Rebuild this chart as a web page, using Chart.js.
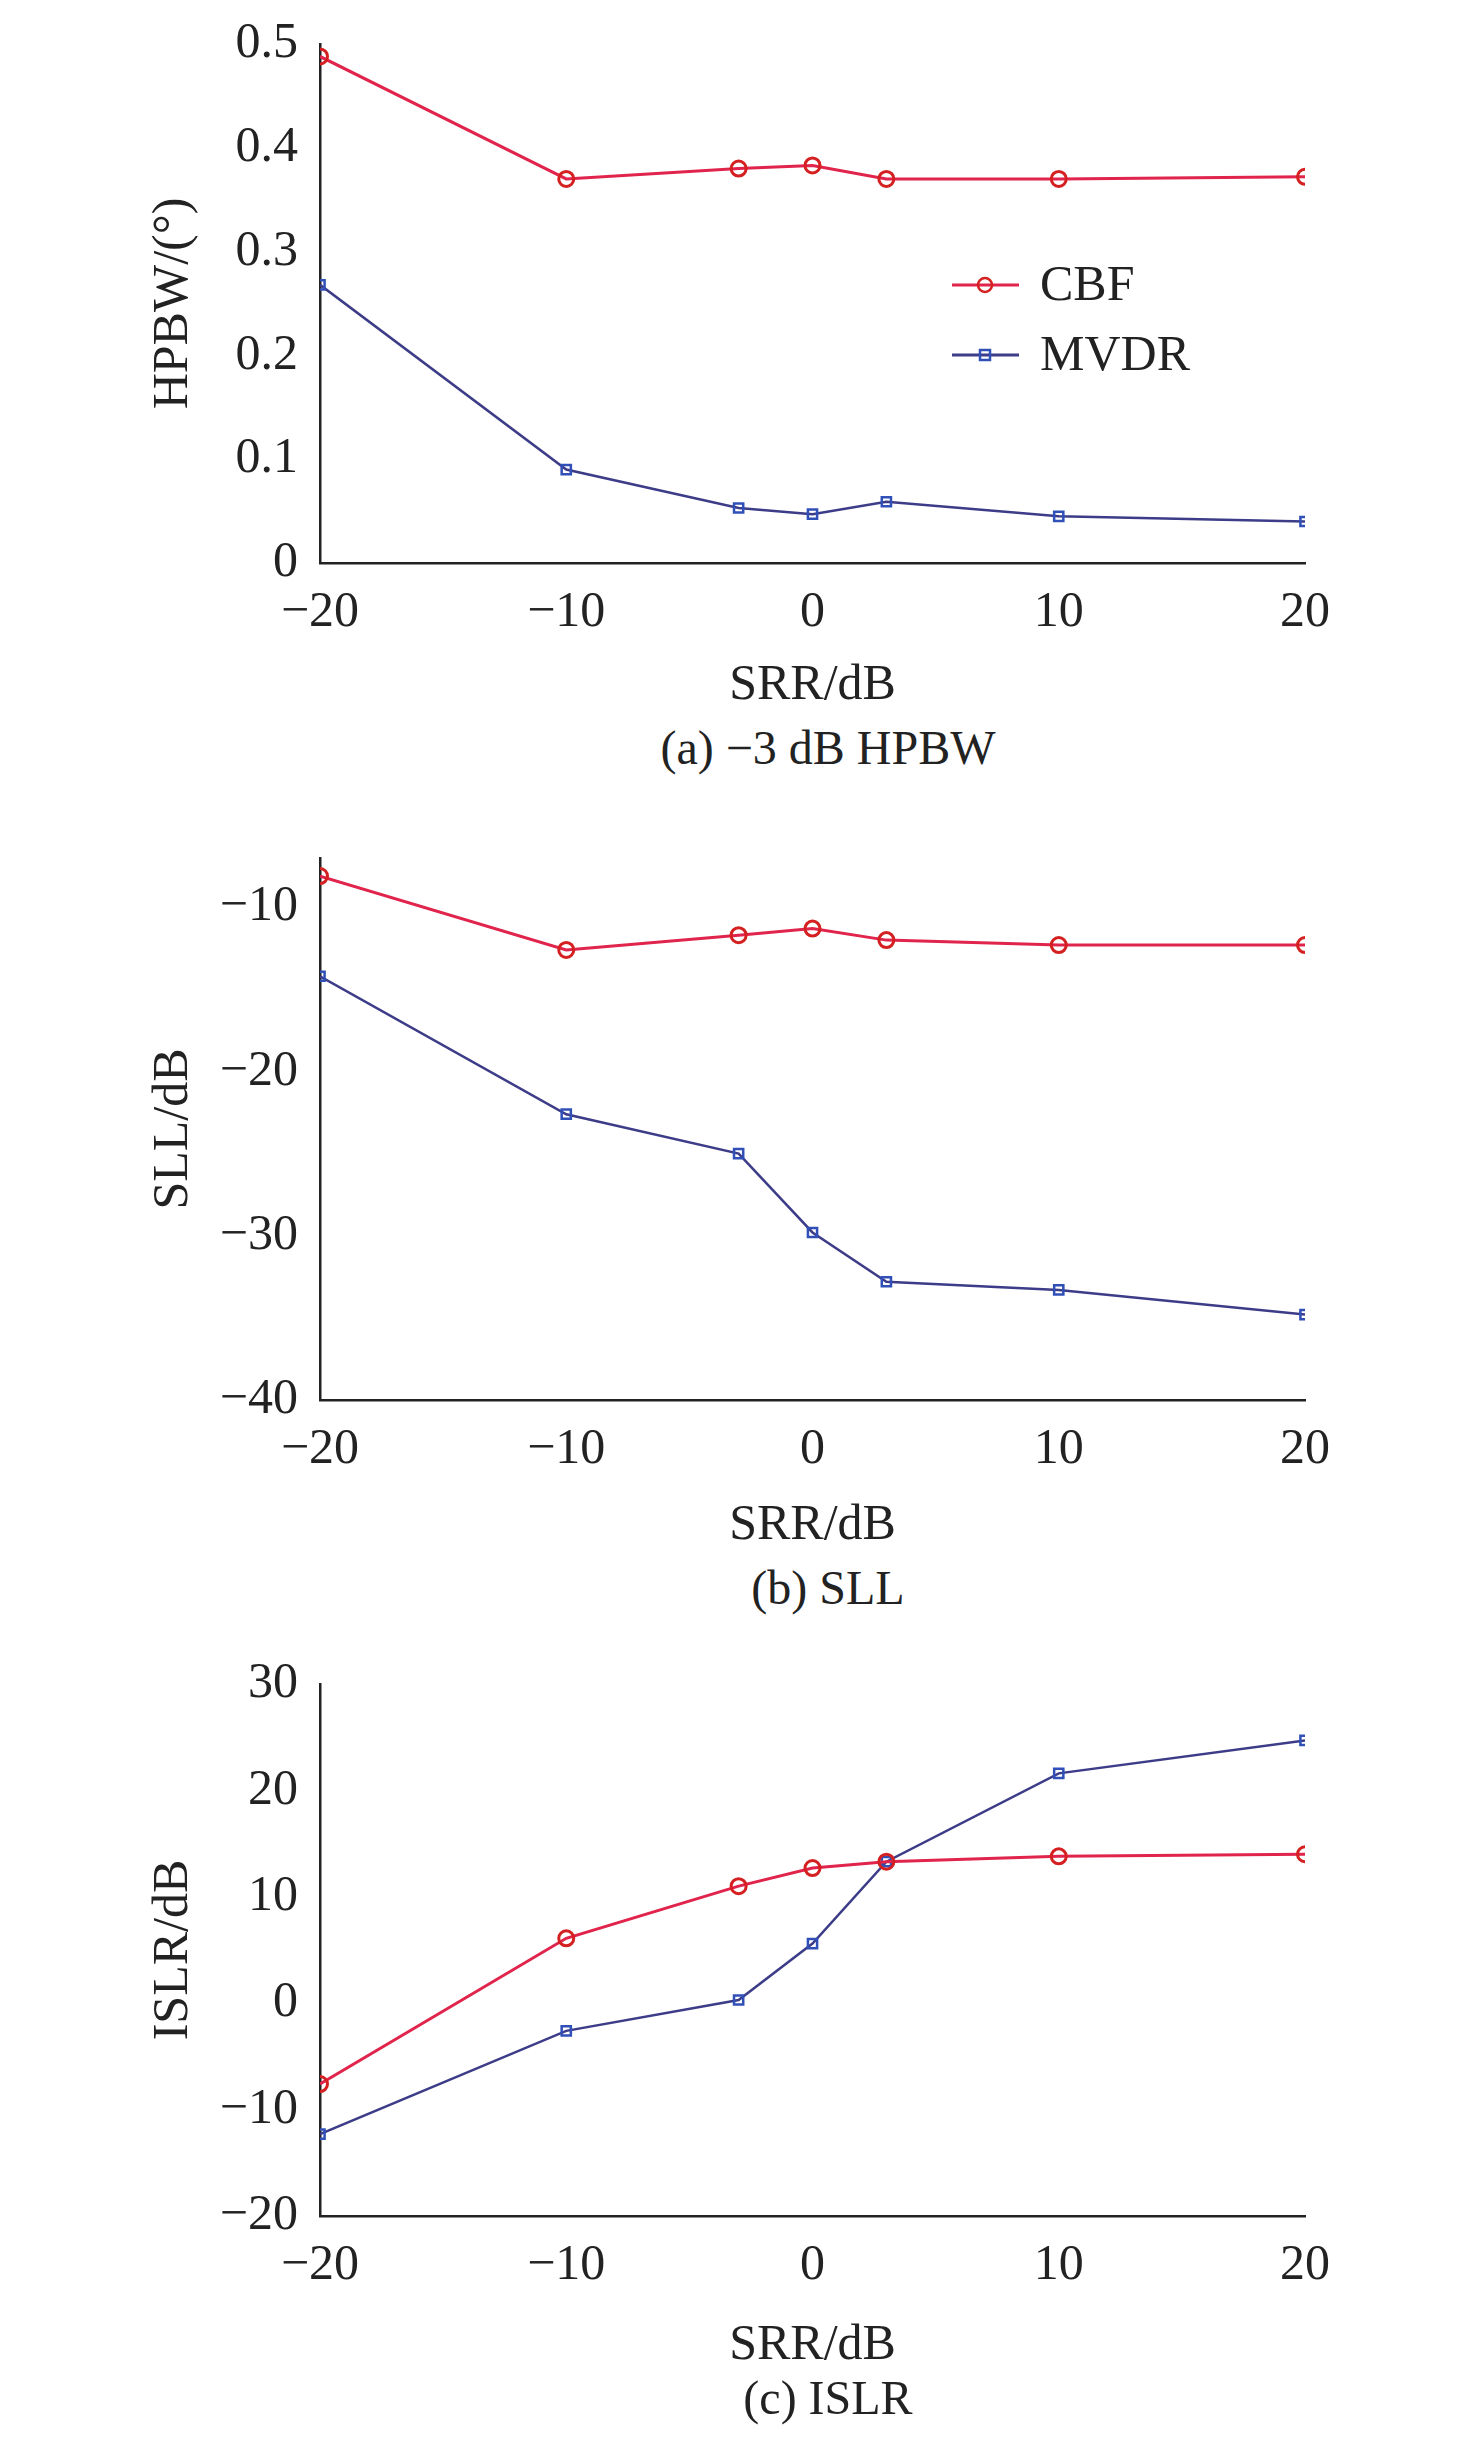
<!DOCTYPE html>
<html lang="en">
<head>
  <meta charset="UTF-8">
  <title>HPBW / SLL / ISLR</title>
  <script src="https://cdn.jsdelivr.net/npm/chart.js"></script>
  <style>
    body { margin: 0; background: #fff; width: 1476px; height: 2440px; position: relative; overflow: hidden; }
    .panel { position: absolute; left: 0; width: 1476px; }
    .caption { position: absolute; left: 0; width: 1476px; text-align: center; margin-left: 90px;
      font-family: "Liberation Serif", serif; font-size: 48px; color: #222; }
  </style>
</head>
<body>
  <div class="panel" style="top:0;height:720px"><canvas id="chartA"></canvas></div>
  <div class="caption" style="top:720px">(a) −3 dB HPBW</div>
  <div class="panel" style="top:800px;height:760px"><canvas id="chartB"></canvas></div>
  <div class="caption" style="top:1560px">(b) SLL</div>
  <div class="panel" style="top:1640px;height:740px"><canvas id="chartC"></canvas></div>
  <div class="caption" style="top:2370px">(c) ISLR</div>

  <script>
    // SRR values (dB)
    const srr = [-20, -10, -3, 0, 3, 10, 20];
    const xTicks = [-20, -10, 0, 10, 20];

    // (a) -3 dB HPBW
    const hpbwCBF = [0.488, 0.37, 0.38, 0.383, 0.37, 0.37, 0.372];
    const hpbwMVDR = [0.268, 0.09, 0.053, 0.047, 0.059, 0.045, 0.04];
    const hpbwTicks = [0, 0.1, 0.2, 0.3, 0.4, 0.5];

    // (b) SLL
    const sllCBF = [-8.1, -12.6, -11.7, -11.3, -12.0, -12.3, -12.3];
    const sllMVDR = [-14.2, -22.6, -25.0, -29.8, -32.8, -33.3, -34.8];
    const sllTicks = [-40, -30, -20, -10];

    // (c) ISLR
    const islrCBF = [-7.6, 6.1, 11.0, 12.7, 13.3, 13.8, 14.0];
    const islrMVDR = [-12.3, -2.6, 0.3, 5.6, 13.3, 21.6, 24.7];
    const islrTicks = [-20, -10, 0, 10, 20, 30];

    const FONT = '"Liberation Serif", serif';
    const FS = 50;
    const minus = v => String(v).replace('-', '\u2212');

    function pts(vals) {
      return vals.map((v, i) => ({ x: srr[i], y: v }));
    }

    // legend drawn inside the first plot
    const legendPlugin = {
      id: 'innerLegend',
      afterDatasetsDraw(chart, args, opts) {
        if (!opts.show) return;
        const ctx = chart.ctx;
        chart.data.datasets.forEach((ds, i) => {
          const y = 285 + i * 70;
          ctx.save();
          ctx.strokeStyle = ds.borderColor;
          ctx.lineWidth = 3;
          ctx.beginPath(); ctx.moveTo(952, y); ctx.lineTo(1019, y); ctx.stroke();
          ctx.lineWidth = 2.5;
          ctx.strokeStyle = ds.pointBorderColor;
          if (ds.pointStyle === 'rect') {
            ctx.strokeRect(980, y - 5, 10, 10);
          } else {
            ctx.beginPath(); ctx.arc(985, y, 7, 0, Math.PI * 2); ctx.stroke();
          }
          ctx.fillStyle = '#222';
          ctx.font = FS + 'px ' + FONT;
          ctx.textBaseline = 'middle';
          ctx.fillText(ds.label, 1040, y + 2);
          ctx.restore();
        });
      }
    };

    function makeChart(id, cbf, mvdr, yTicks, yMin, yMax, yTitle, padTop, xHeight, showLegend, yDigits) {
      return new Chart(document.getElementById(id), {
        type: 'line',
        data: {
          datasets: [
            {
              label: 'CBF', data: pts(cbf),
              borderColor: '#e0244c', borderWidth: 3,
              pointStyle: 'circle', pointRadius: 7.5, pointBorderWidth: 3,
              pointBorderColor: '#d42020', pointBackgroundColor: 'rgba(255,255,255,0)'
            },
            {
              label: 'MVDR', data: pts(mvdr),
              borderColor: '#3c3c88', borderWidth: 2.5,
              pointStyle: 'rect', pointRadius: 6.5, pointBorderWidth: 2.5,
              pointBorderColor: '#3050b8', pointBackgroundColor: 'rgba(255,255,255,0)'
            }
          ]
        },
        options: {
          responsive: true, maintainAspectRatio: false, animation: false,
          layout: { padding: { top: padTop, right: 171, left: 140, bottom: 0 } },
          plugins: { legend: { display: false }, tooltip: { enabled: false }, innerLegend: { show: showLegend } },
          scales: {
            x: {
              type: 'linear', min: -20, max: 20,
              afterBuildTicks: s => { s.ticks = xTicks.map(v => ({ value: v })); },
              afterFit: s => { s.height = xHeight; },
              grid: { display: false },
              border: { display: true, color: '#222', width: 2.5 },
              ticks: { color: '#222', font: { family: FONT, size: FS }, padding: 12, callback: v => minus(v) },
              title: { display: true, text: 'SRR/dB', color: '#222', font: { family: FONT, size: FS }, padding: { top: 0 } }
            },
            y: {
              min: yMin, max: yMax,
              afterBuildTicks: s => { s.ticks = yTicks.map(v => ({ value: v })); },
              afterFit: s => { s.width = 180; },
              grid: { display: false },
              border: { display: true, color: '#222', width: 2.5 },
              ticks: { color: '#222', font: { family: FONT, size: FS }, padding: 14,
                callback: v => v === 0 ? '0' : minus(v.toFixed(yDigits)) },
              title: { display: true, text: yTitle, color: '#222', font: { family: FONT, size: FS }, padding: { bottom: 0 } }
            }
          }
        },
        plugins: [legendPlugin]
      });
    }

    makeChart('chartA', hpbwCBF, hpbwMVDR, hpbwTicks, 0, 0.5, 'HPBW/(°)', 31, 157, true, 1);
    makeChart('chartB', sllCBF, sllMVDR, sllTicks, -40, -7, 'SLL/dB', 58, 160, false, 0);
    makeChart('chartC', islrCBF, islrMVDR, islrTicks, -20, 30, 'ISLR/dB', 44, 164, false, 0);
  </script>
</body>
</html>
